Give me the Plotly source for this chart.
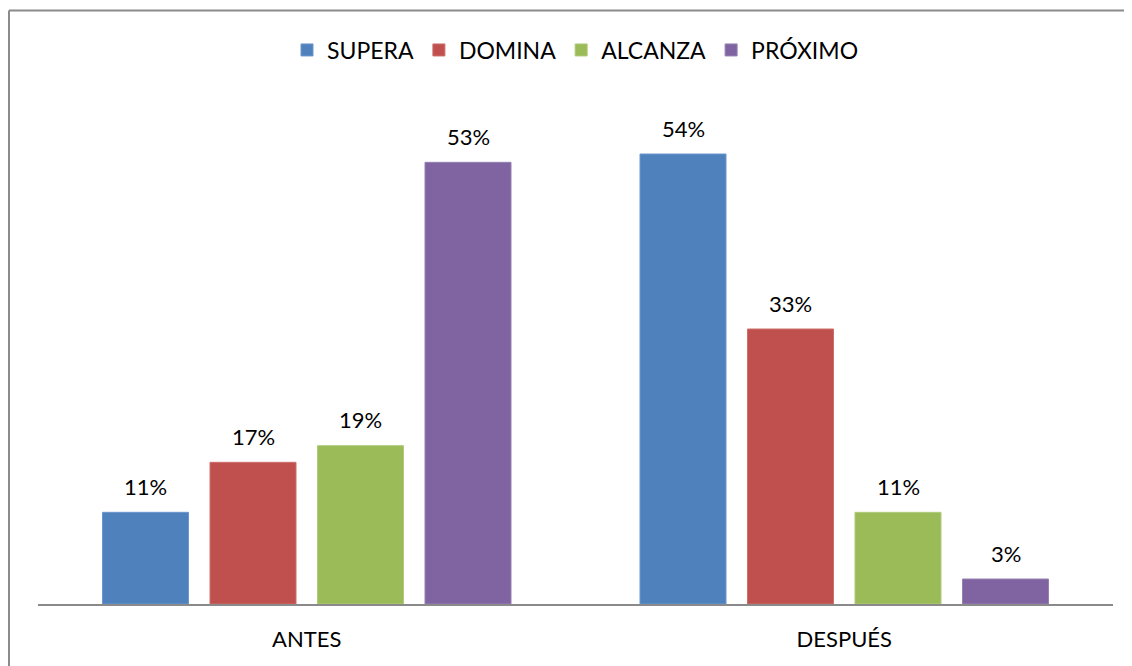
import plotly.graph_objects as go

categories = ["ANTES", "DESPUÉS"]
series_names = ["SUPERA", "DOMINA", "ALCANZA", "PRÓXIMO"]
supera = [0.11, 0.54]
domina = [0.17, 0.33]
alcanza = [0.19, 0.11]
proximo = [0.53, 0.03]
colors = ["#4F81BD", "#C0504D", "#9BBB59", "#8064A2"]
edge_colors = ["#6C96CC", "#CD6E6B", "#AFCA7A", "#9680B3"]

series_values = [supera, domina, alcanza, proximo]
FONT = "Lato"
FS = 22

fig = go.Figure()
for name, vals, col, ec in zip(series_names, series_values, colors, edge_colors):
    fig.add_trace(go.Bar(
        name=name, x=categories, y=vals,
        marker=dict(color=col, line=dict(color=ec, width=1)),
        hoverinfo="skip",
    ))

# value labels above bars
slot_px = 107.5
for i, vals in enumerate(series_values):
    for cat, v in zip(categories, vals):
        fig.add_annotation(
            x=cat, y=v, xref="x", yref="y",
            text=f"{round(v*100)}%", showarrow=False,
            xshift=(i - 1.5) * slot_px, yshift=26,
            font=dict(family=FONT, size=FS, color="#000000"),
        )

# chart-area border (only left and top edges fall inside the picture)
fig.add_shape(type="line", xref="paper", yref="paper",
              x0=-0.027, x1=-0.027, y0=-0.2, y1=1.187,
              line=dict(color="#8A8A8A", width=2))
fig.add_shape(type="line", xref="paper", yref="paper",
              x0=-0.027, x1=1.03, y0=1.187, y1=1.187,
              line=dict(color="#8A8A8A", width=2))

fig.update_layout(
    width=1124, height=658,
    margin=dict(l=30, r=19, t=96, b=62, autoexpand=False),
    paper_bgcolor="white", plot_bgcolor="white",
    barmode="group", bargap=0.2, bargroupgap=0.2,
    showlegend=True,
    legend=dict(orientation="h", x=0.5, xanchor="center", y=1.108, yanchor="middle",
                font=dict(family=FONT, size=23, color="#000000"),
                itemwidth=30, tracegroupgap=0, bgcolor="rgba(0,0,0,0)"),
    font=dict(family=FONT, size=FS, color="#000000"),
)
fig.update_xaxes(showline=True, linecolor="#8A8A8A", linewidth=2,
                 ticks="outside", ticklen=15, tickcolor="rgba(0,0,0,0)",
                 tickfont=dict(family=FONT, size=FS, color="#000000"),
                 showgrid=False, zeroline=False, automargin=False)
fig.update_yaxes(range=[0, 0.6], visible=False, showgrid=False, zeroline=False)

fig.write_html("out.html")
